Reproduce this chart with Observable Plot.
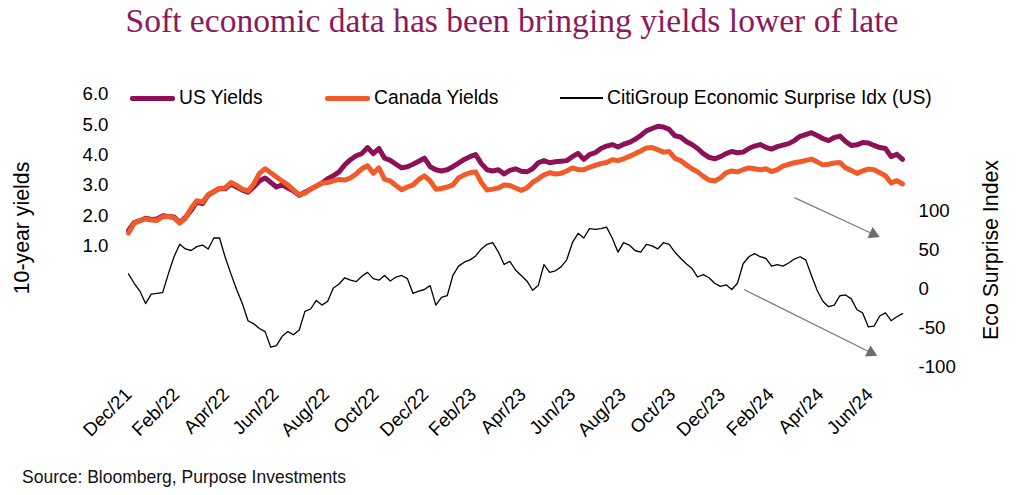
<!DOCTYPE html>
<html><head><meta charset="utf-8">
<script src="https://cdn.jsdelivr.net/npm/d3@7"></script>
<script src="https://cdn.jsdelivr.net/npm/@observablehq/plot@0.6"></script>
<style>
body{margin:0;background:#fff;}
#wrap{position:relative;width:1024px;height:495px;overflow:hidden;background:#fff;font-family:"Liberation Sans",Arial,sans-serif;color:#000;}
#title{position:absolute;left:0;top:0;width:1024px;height:41px;line-height:41px;text-align:center;font-family:"Liberation Serif","Times New Roman",serif;font-size:33.6px;color:#8B1A5B;white-space:nowrap;}
#chart{position:absolute;left:0;top:45px;}
.leg{position:absolute;top:86px;height:24px;display:flex;align-items:center;font-size:19.3px;white-space:nowrap;}
.sw{display:inline-block;margin-right:4px;}
.ytitle{position:absolute;font-size:21.3px;white-space:nowrap;transform:translate(-50%,-50%) rotate(-90deg);}
#source{position:absolute;left:22px;top:466px;height:22px;line-height:22px;font-size:17.5px;color:#111;white-space:nowrap;}
</style></head>
<body><div id="wrap">
<div id="title">Soft economic data has been bringing yields lower of late</div>
<div id="chart"></div>
<div class="ytitle" style="left:22px;top:228px;">10-year yields</div>
<div class="ytitle" style="left:991px;top:250px;">Eco Surprise Index</div>
<div id="source">Source: Bloomberg, Purpose Investments</div>
</div>
<script>
// ---- data ----
const seriesNames = ["US Yields", "Canada Yields", "CitiGroup Economic Surprise Idx (US)"];
const seriesColors = ["#8C1157", "#F15A29", "#000000"];

const dates = [
"2021-12-31",
"2022-01-07","2022-01-14","2022-01-21","2022-01-28","2022-02-04","2022-02-11","2022-02-18","2022-02-25",
"2022-03-04","2022-03-11","2022-03-18","2022-03-25","2022-04-01","2022-04-08","2022-04-15","2022-04-22","2022-04-29",
"2022-05-06","2022-05-13","2022-05-20","2022-05-27","2022-06-03","2022-06-10","2022-06-17","2022-06-24",
"2022-07-01","2022-07-08","2022-07-15","2022-07-22","2022-07-29","2022-08-05","2022-08-12","2022-08-19","2022-08-26",
"2022-09-02","2022-09-09","2022-09-16","2022-09-23","2022-09-30","2022-10-07","2022-10-14","2022-10-21","2022-10-28",
"2022-11-04","2022-11-11","2022-11-18","2022-11-25","2022-12-02","2022-12-09","2022-12-16","2022-12-23","2022-12-30",
"2023-01-06","2023-01-13","2023-01-20","2023-01-27","2023-02-03","2023-02-10","2023-02-17","2023-02-24",
"2023-03-03","2023-03-10","2023-03-17","2023-03-24","2023-03-31","2023-04-07","2023-04-14","2023-04-21","2023-04-28",
"2023-05-05","2023-05-12","2023-05-19","2023-05-26","2023-06-02","2023-06-09","2023-06-16","2023-06-23","2023-06-30",
"2023-07-07","2023-07-14","2023-07-21","2023-07-28","2023-08-04","2023-08-11","2023-08-18","2023-08-25",
"2023-09-01","2023-09-08","2023-09-15","2023-09-22","2023-09-29","2023-10-06","2023-10-13","2023-10-20","2023-10-27",
"2023-11-03","2023-11-10","2023-11-17","2023-11-24","2023-12-01","2023-12-08","2023-12-15","2023-12-22","2023-12-29",
"2024-01-05","2024-01-12","2024-01-19","2024-01-26","2024-02-02","2024-02-09","2024-02-16","2024-02-23",
"2024-03-01","2024-03-08","2024-03-15","2024-03-22","2024-03-29","2024-04-05","2024-04-12","2024-04-19","2024-04-26",
"2024-05-03","2024-05-10","2024-05-17","2024-05-24","2024-05-31","2024-06-07","2024-06-14","2024-06-21","2024-06-28",
"2024-07-05","2024-07-12","2024-07-19","2024-07-26","2024-08-02","2024-08-09"
];

const usYields = [
1.51,1.78,1.84,1.92,1.88,1.90,2.00,1.98,1.96,1.78,1.95,2.18,2.45,2.40,2.68,2.80,2.90,2.89,3.05,2.95,2.85,2.78,2.95,3.15,3.25,3.10,2.95,3.02,2.92,2.82,2.68,2.78,2.88,2.98,3.08,3.22,3.32,3.45,3.68,3.85,3.98,4.05,4.25,4.05,4.22,3.90,
3.83,3.70,3.58,3.62,3.70,3.80,3.90,3.62,3.52,3.48,3.52,3.62,3.74,3.86,3.95,4.02,3.72,3.52,3.48,3.52,3.38,3.50,3.55,3.47,3.45,3.55,3.75,3.82,3.75,3.78,3.80,3.82,3.95,4.06,3.86,4.02,4.08,4.22,4.30,4.35,4.27,4.36,4.42,4.52,4.65,4.80,
4.88,4.95,4.93,4.85,4.64,4.60,4.45,4.35,4.22,4.05,3.93,3.88,3.95,4.05,4.12,4.08,4.10,4.22,4.30,4.35,4.26,4.20,4.28,4.33,4.38,4.48,4.62,4.68,4.74,4.65,4.55,4.48,4.58,4.63,4.45,4.32,4.34,4.42,4.40,4.32,4.25,4.22,3.95,4.03,3.86
];

const caYields = [
1.43,1.76,1.84,1.90,1.86,1.85,1.97,1.98,1.93,1.76,1.92,2.25,2.50,2.45,2.70,2.80,2.90,2.92,3.10,3.00,2.88,2.82,3.05,3.40,3.55,3.42,3.28,3.15,3.02,2.85,2.70,2.75,2.88,2.98,3.08,3.10,3.15,3.20,3.18,3.25,3.38,3.55,3.65,3.40,3.58,3.20,
3.15,3.00,2.86,2.95,3.02,3.20,3.32,3.15,2.88,2.90,2.95,3.02,3.25,3.35,3.42,3.45,3.10,2.85,2.88,2.92,3.02,3.00,2.92,2.84,2.92,3.10,3.22,3.35,3.42,3.38,3.40,3.48,3.58,3.52,3.52,3.60,3.66,3.72,3.76,3.85,3.82,3.88,3.96,4.05,4.14,4.24,
4.25,4.18,4.10,4.12,3.90,3.82,3.68,3.55,3.45,3.30,3.18,3.15,3.25,3.42,3.48,3.45,3.52,3.58,3.55,3.52,3.55,3.46,3.52,3.64,3.70,3.75,3.78,3.83,3.87,3.78,3.68,3.70,3.74,3.76,3.58,3.50,3.40,3.48,3.54,3.52,3.42,3.32,3.08,3.16,3.05
];

const ecoSurprise = [
20,8,-2,-18,-6,-5,-4,20,42,58,52,50,55,57,52,66,66,41,20,0,-18,-40,-44,-50,-54,-74,-72,-60,-54,-58,-52,-28,-25,-14,-20,-15,2,7,15,12,10,17,22,14,12,18,
11,16,18,14,-5,-2,0,5,-20,-10,-8,18,30,35,38,43,52,58,60,48,32,36,25,18,11,-1,5,32,22,24,29,38,60,72,66,78,77,78,80,66,48,60,57,50,48,58,
56,52,60,58,48,40,33,27,16,19,15,8,4,6,0,8,33,42,46,42,40,30,32,30,34,39,42,38,18,-1,-15,-22,-20,-8,-7,-12,-26,-30,-48,-47,-34,-30,-40,-35,-31
];

const xTickDates = ["2021-12-31","2022-02-28","2022-04-30","2022-06-30","2022-08-31","2022-10-31","2022-12-31",
"2023-02-28","2023-04-30","2023-06-30","2023-08-31","2023-10-31","2023-12-31","2024-02-29","2024-04-30","2024-06-30"];
const leftTicks = [1, 2, 3, 4, 5, 6];
const rightTicks = [-100, -50, 0, 50, 100];
const leftDomain = [-3, 6];
const rightDomain = [-100, 250];
const xDomain = ["2021-12-31", "2024-08-09"];

// trend-arrow annotations (data coordinates)
const yieldArrow = {from: ["2024-03-29", 2.6], to: ["2024-07-12", 1.3]};
const ecoArrow = {from: ["2024-01-27", 0], to: ["2024-07-09", -85]};

// ---- build ----
const parse = s => new Date(s + "T00:00:00Z");
const toY = e => leftDomain[0] + (e - rightDomain[0]) / (rightDomain[1] - rightDomain[0]) * (leftDomain[1] - leftDomain[0]);
const fromY = y => rightDomain[0] + (y - leftDomain[0]) / (leftDomain[1] - leftDomain[0]) * (rightDomain[1] - rightDomain[0]);

const rows = dates.map((d, i) => ({date: parse(d), us: usYields[i], ca: caYields[i], eco: toY(ecoSurprise[i])}));

const W = 1024, H = 415, mT = 49, mB = 93, mL = 128, mR = 122;
const xs = d3.scaleUtc(xDomain.map(parse), [mL, W - mR]);
const ys = d3.scaleLinear(leftDomain, [H - mB, mT]);

const arrows = [
  {x1: parse(yieldArrow.from[0]), y1: yieldArrow.from[1], x2: parse(yieldArrow.to[0]), y2: yieldArrow.to[1]},
  {x1: parse(ecoArrow.from[0]), y1: toY(ecoArrow.from[1]), x2: parse(ecoArrow.to[0]), y2: toY(ecoArrow.to[1])}
];
const headR = 4.6, apex = 2 * Math.sqrt(headR * headR * Math.PI / (3 * Math.sqrt(3)));
arrows.forEach(a => {
  const px1 = xs(a.x1), py1 = ys(a.y1), px2 = xs(a.x2), py2 = ys(a.y2);
  const L = Math.hypot(px2 - px1, py2 - py1), ux = (px2 - px1) / L, uy = (py2 - py1) / L;
  a.angle = Math.atan2(uy, ux) * 180 / Math.PI + 90;
  a.hx = xs.invert(px2 - ux * apex);
  a.hy = ys.invert(py2 - uy * apex);
  a.lx = xs.invert(px2 - ux * apex * 1.2);
  a.ly = ys.invert(py2 - uy * apex * 1.2);
});

const plot = Plot.plot({
  width: W, height: H,
  marginTop: mT, marginBottom: mB, marginLeft: mL, marginRight: mR,
  style: {fontFamily: '"Liberation Sans", Arial, sans-serif', fontSize: "18.7px", color: "#000", background: "transparent", overflow: "visible"},
  x: {type: "utc", domain: xDomain.map(parse)},
  y: {domain: leftDomain},
  marks: [
    Plot.axisY({anchor: "left", ticks: leftTicks, tickFormat: d3.format(".1f"), tickSize: 0, tickPadding: 20, label: null, fontSize: "18.7px"}),
    Plot.axisY({anchor: "right", ticks: rightTicks.map(toY), tickFormat: v => String(Math.round(fromY(v))), tickSize: 0, tickPadding: 16, label: null, fontSize: "18.7px"}),
    Plot.axisX({ticks: xTickDates.map(parse), tickFormat: d3.utcFormat("%b/%y"), tickRotate: -45, tickSize: 0, tickPadding: 24, label: null, fontSize: "18.7px"}),
    Plot.line(rows, {x: "date", y: "eco", stroke: seriesColors[2], strokeWidth: 1.3, strokeLinejoin: "round"}),
    Plot.line(rows, {x: "date", y: "us", stroke: seriesColors[0], strokeWidth: 5, strokeLinejoin: "round"}),
    Plot.line(rows, {x: "date", y: "ca", stroke: seriesColors[1], strokeWidth: 5, strokeLinejoin: "round"}),
    Plot.link(arrows, {x1: "x1", y1: "y1", x2: "lx", y2: "ly", stroke: "#7a7a7a", strokeWidth: 1.2}),
    Plot.dot(arrows, {x: "hx", y: "hy", symbol: "triangle", r: headR, fill: "#6b6c6e", stroke: "none", rotate: "angle"})
  ]
});
document.getElementById("chart").appendChild(plot);

// legend (HTML)
const legendLayout = [{left: 130, w: 45, h: 5}, {left: 325, w: 45, h: 5}, {left: 560, w: 43, h: 1.3}];
const wrap = document.getElementById("wrap");
seriesNames.forEach((name, i) => {
  const el = document.createElement("div");
  el.className = "leg";
  el.style.left = legendLayout[i].left + "px";
  const sw = document.createElement("span");
  sw.className = "sw";
  sw.style.width = legendLayout[i].w + "px";
  sw.style.height = legendLayout[i].h + "px";
  sw.style.background = seriesColors[i];
  sw.style.borderRadius = legendLayout[i].h > 2 ? "2px" : "0";
  el.appendChild(sw);
  el.appendChild(document.createTextNode(name));
  wrap.appendChild(el);
});
</script>
</body></html>
